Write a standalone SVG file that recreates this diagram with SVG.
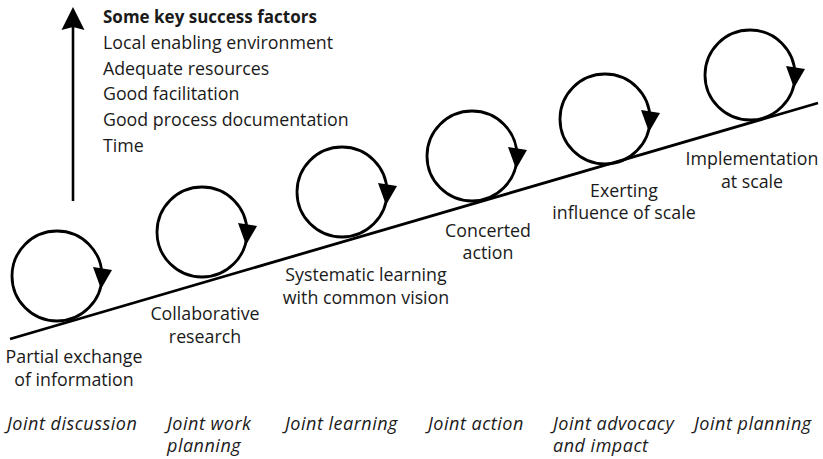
<svg xmlns="http://www.w3.org/2000/svg" xmlns:xlink="http://www.w3.org/1999/xlink" width="823" height="459" viewBox="0 0 823 459">
<style>
  text { font-family: "Open Sans", "Noto Sans", sans-serif; font-size: 17.8px; fill: #1a1a1a; }
  .title { font-weight: bold; font-size: 17px; }
  .lbl { text-anchor: middle; }
  .it { font-style: italic; font-size: 18px; letter-spacing: 0.5px; }
  .stroke { fill: none; stroke: #000; stroke-width: 2.8; }
</style>
<defs>
  <g id="loop">
    <circle cx="0" cy="0" r="45" class="stroke"/>
    <polygon points="36,-9 55,-6 44,13" fill="#000"/>
  </g>
</defs>
<rect width="823" height="459" fill="#fff"/>

<g id="connectors">
  <line x1="10" y1="339" x2="818" y2="103" class="stroke"/>
  <line x1="73" y1="201" x2="73" y2="24" stroke="#000" stroke-width="2.6"/>
  <polygon points="73,7 84.5,30 73,27 61.5,30" fill="#000"/>
</g>

<g id="factors">
  <text x="103" y="23" class="title">Some key success factors</text>
  <text x="103" y="49">Local enabling environment</text>
  <text x="103" y="75">Adequate resources</text>
  <text x="103" y="100">Good facilitation</text>
  <text x="103" y="126">Good process documentation</text>
  <text x="103" y="152">Time</text>
</g>

<g id="stage1">
  <use xlink:href="#loop" href="#loop" transform="translate(57,276)"/>
  <text x="74" y="363" class="lbl">Partial exchange</text>
  <text x="74" y="386" class="lbl">of information</text>
  <text x="7" y="430" class="it">Joint discussion</text>
</g>
<g id="stage2">
  <use xlink:href="#loop" href="#loop" transform="translate(202,232)"/>
  <text x="205" y="320" class="lbl">Collaborative</text>
  <text x="205" y="343" class="lbl">research</text>
  <text x="167" y="430" class="it">Joint work</text>
  <text x="167" y="452" class="it">planning</text>
</g>
<g id="stage3">
  <use xlink:href="#loop" href="#loop" transform="translate(342,192)"/>
  <text x="366" y="281" class="lbl">Systematic learning</text>
  <text x="366" y="304" class="lbl">with common vision</text>
  <text x="285" y="430" class="it">Joint learning</text>
</g>
<g id="stage4">
  <use xlink:href="#loop" href="#loop" transform="translate(472,156)"/>
  <text x="488" y="237" class="lbl">Concerted</text>
  <text x="488" y="259" class="lbl">action</text>
  <text x="428" y="430" class="it">Joint action</text>
</g>
<g id="stage5">
  <use xlink:href="#loop" href="#loop" transform="translate(605,119)"/>
  <text x="624" y="197" class="lbl">Exerting</text>
  <text x="624" y="219" class="lbl">influence of scale</text>
  <text x="553" y="430" class="it">Joint advocacy</text>
  <text x="553" y="452" class="it">and impact</text>
</g>
<g id="stage6">
  <use xlink:href="#loop" href="#loop" transform="translate(750,75)"/>
  <text x="752" y="165" class="lbl">Implementation</text>
  <text x="752" y="188" class="lbl">at scale</text>
  <text x="694" y="430" class="it">Joint planning</text>
</g>
</svg>
